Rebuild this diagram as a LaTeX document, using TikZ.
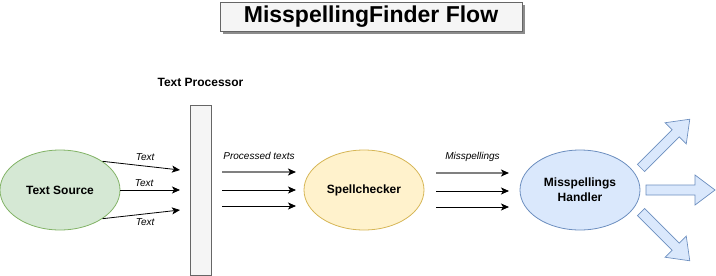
\documentclass[tikz,border=0pt]{standalone}
\usepackage{fontspec}
\setmainfont{Liberation Sans}
\usetikzlibrary{arrows.meta, positioning, shapes.geometric, shadows}

\definecolor{srcfill}{HTML}{D5E8D4}
\definecolor{srcline}{HTML}{82B366}
\definecolor{spellfill}{HTML}{FFF2CC}
\definecolor{spellline}{HTML}{D6B656}
\definecolor{handfill}{HTML}{DAE8FC}
\definecolor{handline}{HTML}{6C8EBF}
\definecolor{procfill}{HTML}{F5F5F5}
\definecolor{procline}{HTML}{666666}

\begin{document}
\begin{tikzpicture}[x=1pt, y=-1pt, >={Stealth[length=8pt, width=7pt, inset=2pt]}]
    \tikzstyle{blob} = [ellipse, draw, line width=0.8pt, minimum width=120pt, minimum height=80pt, align=center, font=\fontsize{12}{15}\selectfont\bfseries]
    \tikzstyle{lbl} = [font=\fontsize{10}{12}\selectfont\itshape, inner sep=1pt]
    \tikzstyle{flow} = [->, line width=0.8pt]
    \tikzstyle{firstflow} = [-{Stealth[length=8pt, width=7pt, inset=2pt, color=black]}, draw=black!50, line width=1.8pt]
    \tikzstyle{fat} = [draw=handline, fill=handfill, line width=0.7pt, line join=miter]
    \useasboundingbox (0,0) rectangle (716,276);

    % title
    \node[draw=procline, fill=procfill, line width=0.8pt, minimum width=302pt, minimum height=29pt,
          drop shadow={shadow xshift=3pt, shadow yshift=-3pt, fill=black!45, opacity=1},
          font=\fontsize{23}{27}\selectfont\bfseries] (title) at (371,16.5) {MisspellingFinder Flow};

    % main blocks
    \node[blob, draw=srcline, fill=srcfill] (src) at (60,190) {Text Source};
    \node[draw=procline, fill=procfill, line width=0.8pt, minimum width=21pt, minimum height=170pt] (proc) at (200.5,190) {};
    \node[above=14pt of proc, font=\fontsize{12}{14}\selectfont\bfseries] (proclbl) {Text Processor};
    \node[blob, draw=spellline, fill=spellfill] (spell) at (364,190) {Spellchecker};
    \node[blob, draw=handline, fill=handfill] (hand) at (580,190) {Misspellings\\Handler};

    % arrow ends
    \coordinate (in1) at (180,170);
    \coordinate (in2) at (180,190);
    \coordinate (in3) at (180,210);
    \coordinate (pa1) at (222,172);
    \coordinate (pb1) at (296,172);
    \coordinate (pa2) at (222,190);
    \coordinate (pb2) at (296,190);
    \coordinate (pa3) at (222,206);
    \coordinate (pb3) at (296,206);
    \coordinate (ma1) at (436,173);
    \coordinate (mb1) at (509,173);
    \coordinate (ma2) at (436,191);
    \coordinate (mb2) at (509,191);
    \coordinate (ma3) at (436,207);
    \coordinate (mb3) at (509,207);

    \draw[flow] (src.34) -- (in1) node[lbl, pos=0.55, above=4pt] {Text};
    \draw[flow] (src.east) -- (in2) node[lbl, pos=0.4, above=2pt] {Text};
    \draw[flow] (src.-34) -- (in3) node[lbl, pos=0.55, below=3pt] {Text};

    \draw[firstflow] (pa1) -- (pb1) node[lbl, midway, above=10pt] {Processed texts};
    \draw[flow] (pa2) -- (pb2);
    \draw[flow] (pa3) -- (pb3);

    \draw[firstflow] (ma1) -- (mb1) node[lbl, midway, above=10pt] {Misspellings};
    \draw[flow] (ma2) -- (mb2);
    \draw[flow] (ma3) -- (mb3);

    % outgoing block arrows
    \foreach \ang/\sx/\sy in {45/641/168, 0/646/190, -45/641/212} {
        \draw[fat, shift={(\sx,\sy)}, rotate=\ang]
            (0,-5) -- (49,-5) -- (49,-15) -- (69,0) -- (49,15) -- (49,5) -- (0,5) -- cycle;
    }
\end{tikzpicture}
\end{document}
